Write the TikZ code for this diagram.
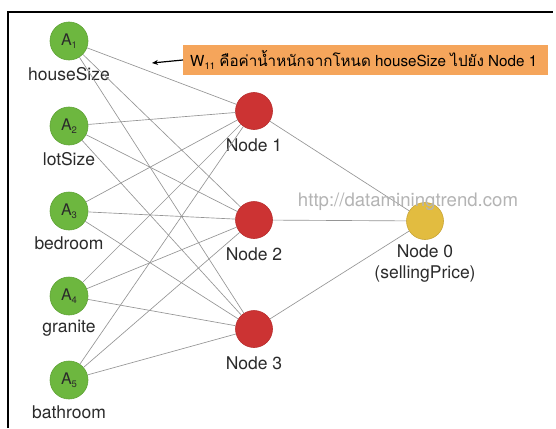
\documentclass[tikz,border=0pt]{standalone}
\usepackage{fontspec}
\setmainfont{TeX Gyre Heros}
\newfontfamily\thaifont[Script=Thai]{Loma}
\usetikzlibrary{arrows.meta}

\definecolor{ingreen}{HTML}{6DB73F}
\definecolor{ingreenline}{HTML}{5FA336}
\definecolor{hidred}{HTML}{CC3333}
\definecolor{hidredline}{HTML}{B82C2C}
\definecolor{outyellow}{HTML}{E2BC40}
\definecolor{outyellowline}{HTML}{C9A536}
\definecolor{noteorange}{HTML}{F5A55B}
\definecolor{wiregray}{HTML}{959595}
\definecolor{txt}{HTML}{2B2B2B}
\definecolor{markgray}{HTML}{B4B4B4}

% small lowered index digits
\newcommand\lowidx[1]{\raisebox{-0.3ex}{\fontsize{9.5}{9.5}\selectfont #1}}

\begin{document}
\begin{tikzpicture}[x=1pt,y=-1pt,
  inp/.style={circle, fill=ingreen, draw=ingreenline, line width=0.6pt,
    minimum size=38pt, inner sep=0pt, text=txt, font=\fontsize{16}{16}\selectfont},
  hid/.style={circle, fill=hidred, draw=hidredline, line width=0.6pt,
    minimum size=37pt, inner sep=0pt},
  outn/.style={circle, fill=outyellow, draw=outyellowline, line width=0.6pt,
    minimum size=37pt, inner sep=0pt},
  lbl/.style={inner sep=0pt, text=txt, font=\fontsize{17.5}{21}\selectfont, align=center},
  wire/.style={draw=wiregray, line width=0.65pt},
  note/.style={fill=noteorange, inner xsep=7pt, inner ysep=0pt, minimum height=30pt,
    text=black, font=\fontsize{15.2}{15.2}\selectfont},
]
\useasboundingbox (0,0) rectangle (556,428);
\fill[white] (0,0) rectangle (556,428);

% frame
\draw[line width=1.5pt, black] (8,428) -- (8,12) -- (553,12);

% input layer
\node[inp] (a1) at (69,41)  {A\lowidx{1}};
\node[inp] (a2) at (69,126) {A\lowidx{2}};
\node[inp] (a3) at (69,211) {A\lowidx{3}};
\node[inp] (a4) at (69,296) {A\lowidx{4}};
\node[inp] (a5) at (69,380) {A\lowidx{5}};
\node[lbl] (l1) at (69,74)  {houseSize};
\node[lbl] (l2) at (69,159) {lotSize};
\node[lbl] (l3) at (69,243) {bedroom};
\node[lbl] (l4) at (69,328) {granite};
\node[lbl] (l5) at (69,412) {bathroom};

% hidden layer
\node[hid] (h1) at (254,111) {};
\node[hid] (h2) at (254,220) {};
\node[hid] (h3) at (254,329) {};
\node[lbl] (m1) at (254,145) {Node 1};
\node[lbl] (m2) at (254,254) {Node 2};
\node[lbl] (m3) at (254,363) {Node 3};

% output layer
\node[outn] (o) at (425,221) {};
\node[lbl] (ol) at (425,264) {Node 0\\(sellingPrice)};

% connections
\foreach \i in {1,...,5}
  \foreach \j in {1,2,3}
    \draw[wire] (a\i) -- (h\j);
\foreach \j in {1,2,3}
  \draw[wire] (h\j) -- (o);

% annotation of the first weight
\node[note, anchor=west] (w) at (183,60)
  {\makebox[351pt][l]{W\lowidx{11} {\thaifont คือค่าน้ำหนักจากโหนด} houseSize {\thaifont ไปยัง} Node 1}};
\coordinate (wtip) at (152,63);
\draw[line width=1.2pt, black, -{Stealth[length=6pt,width=5pt]}] (w.west) -- (wtip);

% site mark
\node[inner sep=0pt, text=markgray, font=\fontsize{18.6}{18.6}\selectfont] (site) at (408,202)
  {http://dataminingtrend.com};
\end{tikzpicture}
\end{document}
